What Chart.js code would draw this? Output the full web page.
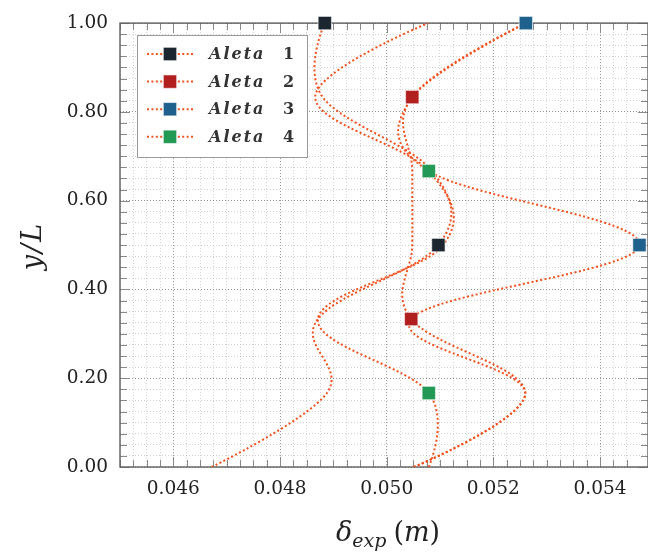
<!DOCTYPE html>
<html>
<head>
<meta charset="utf-8">
<script src="https://cdn.jsdelivr.net/npm/chart.js@4.4.1/dist/chart.umd.min.js"></script>
<style>
  html, body { margin: 0; padding: 0; background: #ffffff; }
  #wrap { width: 648px; height: 553px; }
</style>
</head>
<body>
<div id="wrap"><canvas id="c" width="648" height="553"></canvas></div>
<script>
// ---------- data ----------
const seriesNames = ['Aleta', 'Aleta', 'Aleta', 'Aleta'];
const seriesNumbers = ['1', '2', '3', '4'];
const yLevels = [0, 1/6, 1/3, 1/2, 2/3, 5/6, 1];
const aleta1 = [0.04672, 0.04888, 0.04871, 0.05097, 0.05085, 0.04880, 0.04884];
const aleta2 = [0.05051, 0.05260, 0.05046, 0.05048, 0.05048, 0.05048, 0.05261];
const aleta3 = [0.05051, 0.05260, 0.05046, 0.05474, 0.05079, 0.05048, 0.05261];
const aleta4 = [0.05079, 0.05079, 0.04871, 0.05106, 0.05079, 0.04866, 0.05078];
const marks1 = [3, 6];
const marks2 = [2, 5];
const marks3 = [3, 6];
const marks4 = [1, 4];
const xMajorValues = [0.046, 0.048, 0.050, 0.052, 0.054];
const xTickLabels = ['0.046', '0.048', '0.050', '0.052', '0.054'];
const yMajorValues = [0, 0.2, 0.4, 0.6, 0.8, 1.0];
const yTickLabels = ['0.00', '0.20', '0.40', '0.60', '0.80', '1.00'];

// ---------- styles ----------
const lineColor = '#f4511e';
const markerColors = ['#1b2631', '#b21f1f', '#1f618d', '#229954'];
const dotted = [2, 2.4];
const smoothK = 0.55 / 3;   // pgf-like smoothing factor

const allSeries = [aleta1, aleta2, aleta3, aleta4];
const allMarks = [marks1, marks2, marks3, marks4];

const lineSets = allSeries.map((s, k) => ({
  label: seriesNames[k] + ' ' + seriesNumbers[k],
  data: yLevels.map((y, i) => ({ x: s[i], y: y })),
  showLine: true,
  borderColor: lineColor,
  borderWidth: 2,
  borderDash: dotted,
  borderCapStyle: 'butt',
  tension: 0.3,
  pointRadius: 0,
  pointHoverRadius: 0,
  order: 10,
  pgfSmooth: true
}));
const markSets = allSeries.map((s, k) => ({
  label: seriesNames[k] + ' ' + seriesNumbers[k] + ' marks',
  data: allMarks[k].map(i => ({ x: s[i], y: yLevels[i] })),
  showLine: false,
  pointStyle: 'rect',
  pointRadius: 9.4,
  pointHoverRadius: 9.4,
  backgroundColor: markerColors[k],
  borderColor: 'rgba(255,255,255,0.55)',
  borderWidth: 1,
  clip: false,
  order: k
}));

function near(a, b) { return Math.abs(a - b) < 1e-7; }
function isXMajor(v) { return xMajorValues.some(m => near(m, v)); }
function isYMajor(v) { return yMajorValues.some(m => near(m, v)); }

const tickFont = { family: 'DejaVu Serif', size: 18.5 };

// pgf-style smooth curve control points (uniform tension, no distance weighting)
const smoothPlugin = {
  id: 'pgfsmooth',
  beforeDatasetDraw(chart, args) {
    const meta = args.meta;
    const ds = chart.data.datasets[args.index];
    if (!ds.pgfSmooth || !meta.dataset) return;
    const line = meta.dataset;
    line.updateControlPoints(chart.chartArea, 'x');
    const pts = meta.data;
    const n = pts.length;
    for (let i = 0; i < n; i++) {
      const p = pts[i];
      if (i === 0 || i === n - 1) {
        p.cp1x = p.x; p.cp1y = p.y; p.cp2x = p.x; p.cp2y = p.y;
        continue;
      }
      const prev = pts[i - 1], next = pts[i + 1];
      const dx = smoothK * (next.x - prev.x);
      const dy = smoothK * (next.y - prev.y);
      p.cp1x = p.x - dx; p.cp1y = p.y - dy;
      p.cp2x = p.x + dx; p.cp2y = p.y + dy;
    }
  }
};

// inner tick marks + frame
const framePlugin = {
  id: 'frame',
  beforeDatasetsDraw(chart) {
    const { ctx, chartArea: a, scales: { x, y } } = chart;
    ctx.save();
    ctx.strokeStyle = '#8a8a8a';
    ctx.lineWidth = 1;
    ctx.beginPath();
    x.ticks.forEach(t => {
      const px = Math.round(x.getPixelForValue(t.value)) + 0.5;
      const len = isXMajor(t.value) ? 10 : 7;
      ctx.moveTo(px, a.bottom); ctx.lineTo(px, a.bottom - len);
      ctx.moveTo(px, a.top); ctx.lineTo(px, a.top + len);
    });
    y.ticks.forEach(t => {
      const py = Math.round(y.getPixelForValue(t.value)) + 0.5;
      const len = isYMajor(t.value) ? 10 : 7;
      ctx.moveTo(a.left, py); ctx.lineTo(a.left + len, py);
      ctx.moveTo(a.right, py); ctx.lineTo(a.right - len, py);
    });
    ctx.stroke();
    ctx.strokeStyle = '#5e5e5e';
    ctx.lineWidth = 1.4;
    ctx.strokeRect(a.left, a.top, a.right - a.left, a.bottom - a.top);
    ctx.restore();
  }
};

// axis titles + legend box
const decorPlugin = {
  id: 'decor',
  afterDraw(chart) {
    const { ctx } = chart;
    ctx.save();
    ctx.fillStyle = '#222';
    ctx.textBaseline = 'alphabetic';
    ctx.textAlign = 'left';
    // x title: delta_exp (m)
    let cx = 336, base = 541;
    ctx.font = 'italic 27px "DejaVu Serif"';
    ctx.fillText('δ', cx, base);
    cx += ctx.measureText('δ').width;
    ctx.font = 'italic 19px "DejaVu Serif"';
    ctx.fillText('exp', cx, base + 6);
    cx += ctx.measureText('exp').width + 7;
    ctx.font = '27px "DejaVu Serif"';
    ctx.fillText('(', cx, base);
    cx += ctx.measureText('(').width;
    ctx.font = 'italic 27px "DejaVu Serif"';
    ctx.fillText('m', cx, base);
    cx += ctx.measureText('m').width;
    ctx.font = '27px "DejaVu Serif"';
    ctx.fillText(')', cx, base);
    // y title
    ctx.save();
    ctx.translate(41, 246);
    ctx.rotate(-Math.PI / 2);
    ctx.textAlign = 'center';
    ctx.font = 'italic 27px "DejaVu Serif"';
    try { ctx.letterSpacing = '2px'; } catch (e) {}
    ctx.fillText('y/L', 0, 0);
    ctx.restore();

    // legend
    const L = { left: 137, top: 35, width: 170, height: 122 };
    ctx.fillStyle = '#ffffff';
    ctx.fillRect(L.left, L.top, L.width, L.height);
    ctx.strokeStyle = '#9a9a9a';
    ctx.lineWidth = 1;
    ctx.strokeRect(L.left + 0.5, L.top + 0.5, L.width, L.height);
    for (let k = 0; k < 4; k++) {
      const ry = 54 + k * 27.6;
      ctx.save();
      ctx.strokeStyle = lineColor;
      ctx.lineWidth = 2;
      ctx.setLineDash(dotted);
      ctx.beginPath();
      ctx.moveTo(147, ry); ctx.lineTo(193, ry);
      ctx.stroke();
      ctx.restore();
      const s = 13.3;
      ctx.fillStyle = markerColors[k];
      ctx.fillRect(170 - s / 2, ry - s / 2, s, s);
      ctx.strokeStyle = 'rgba(255,255,255,0.55)';
      ctx.strokeRect(170 - s / 2, ry - s / 2, s, s);
      ctx.fillStyle = '#333';
      ctx.textBaseline = 'middle';
      ctx.font = 'italic bold 16px "DejaVu Serif"';
      try { ctx.letterSpacing = '2px'; } catch (e) {}
      ctx.fillText(seriesNames[k], 209, ry + 1);
      try { ctx.letterSpacing = '0px'; } catch (e) {}
      ctx.font = 'bold 16px "DejaVu Serif"';
      ctx.fillText(seriesNumbers[k], 283, ry + 1);
    }
    ctx.restore();
  }
};

new Chart(document.getElementById('c'), {
  type: 'scatter',
  data: { datasets: [...markSets, ...lineSets] },
  plugins: [smoothPlugin, framePlugin, decorPlugin],
  options: {
    responsive: false,
    animation: false,
    devicePixelRatio: 1,
    layout: { autoPadding: false, padding: { top: 21, right: 0, left: 0, bottom: 0 } },
    elements: { line: { capBezierPoints: false } },
    plugins: { legend: { display: false }, tooltip: { enabled: false } },
    events: [],
    scales: {
      x: {
        type: 'linear',
        min: 0.045,
        max: 0.0549,
        afterFit: s => { s.height = 86; s.paddingLeft = 0; s.paddingRight = 0; },
        border: { display: false, dash: [1, 2] },
        grid: {
          drawTicks: false,
          lineWidth: 1,
          color: c => (c.tick && isXMajor(c.tick.value)) ? 'rgba(110,110,110,0.75)' : 'rgba(170,170,170,0.55)'
        },
        ticks: {
          stepSize: 0.00025,
          autoSkip: false,
          maxRotation: 0,
          minRotation: 0,
          padding: 11,
          color: '#222',
          font: tickFont,
          callback: v => {
            const i = xMajorValues.findIndex(m => near(m, v));
            return i >= 0 ? xTickLabels[i] : '';
          }
        }
      },
      y: {
        type: 'linear',
        min: 0,
        max: 1,
        afterFit: s => { s.width = 120; },
        border: { display: false, dash: [1, 2] },
        grid: {
          drawTicks: false,
          lineWidth: 1,
          color: c => (c.tick && isYMajor(c.tick.value)) ? 'rgba(110,110,110,0.75)' : 'rgba(170,170,170,0.55)'
        },
        ticks: {
          stepSize: 0.025,
          autoSkip: false,
          padding: 12,
          color: '#222',
          font: tickFont,
          callback: v => {
            const i = yMajorValues.findIndex(m => near(m, v));
            return i >= 0 ? yTickLabels[i] : '';
          }
        }
      }
    }
  }
});
</script>
</body>
</html>
